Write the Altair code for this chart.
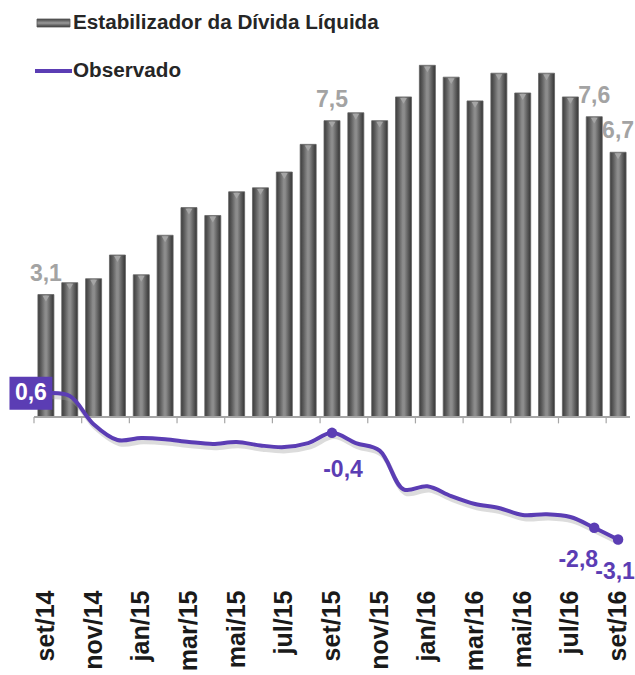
import altair as alt
import pandas as pd

months = ["set/14", "out/14", "nov/14", "dez/14", "jan/15", "fev/15", "mar/15", "abr/15",
          "mai/15", "jun/15", "jul/15", "ago/15", "set/15", "out/15", "nov/15", "dez/15",
          "jan/16", "fev/16", "mar/16", "abr/16", "mai/16", "jun/16", "jul/16", "ago/16", "set/16"]
estabilizador = [3.1, 3.4, 3.5, 4.1, 3.6, 4.6, 5.3, 5.1, 5.7, 5.8, 6.2, 6.9, 7.5, 7.7, 7.5,
                 8.1, 8.9, 8.6, 8.0, 8.7, 8.2, 8.7, 8.1, 7.6, 6.7]
observado = [0.6, 0.53, -0.18, -0.58, -0.53, -0.56, -0.63, -0.68, -0.63, -0.72, -0.76, -0.66,
             -0.4, -0.66, -0.85, -1.83, -1.75, -2.0, -2.2, -2.3, -2.48, -2.46, -2.53, -2.8, -3.1]

axis_label_months = months[::2]
bar_label_months = ["set/14", "set/15", "ago/16", "set/16"]
bar_label_texts = ["3,1", "7,5", "7,6", "6,7"]
line_point_months = ["set/15", "ago/16", "set/16"]
line_label_months = ["set/15", "ago/16", "set/16"]
line_label_texts = ["-0,4", "-2,8", "-3,1"]
line_label_dx = [11, -16, -3]
line_label_dy = [37, 32, 32]
first_label_month = "set/14"
first_label_text = "0,6"

legend_bar = "Estabilizador da Dívida Líquida"
legend_line = "Observado"

FONT = "Liberation Sans"
PURPLE = "#5b3db4"
W, H = 596, 575

df = pd.DataFrame({"mes": months, "estab": estabilizador, "obs": observado})
bar_lab = pd.DataFrame({"mes": bar_label_months, "txt": bar_label_texts}).merge(df, on="mes")
line_lab = pd.DataFrame({"mes": line_label_months, "txt": line_label_texts,
                         "dx": line_label_dx, "dy": line_label_dy}).merge(df, on="mes")
first_lab = pd.DataFrame({"mes": [first_label_month], "txt": [first_label_text]}).merge(df, on="mes")
ticks_df = pd.DataFrame({"mes": axis_label_months})

x = alt.X("mes:N", sort=months, title=None,
          scale=alt.Scale(paddingInner=0, paddingOuter=0),
          axis=alt.Axis(values=axis_label_months, domain=False, ticks=False, labelAngle=270,
                        labelAlign="right", labelBaseline="middle", labelPadding=5,
                        labelFont=FONT, labelFontSize=25, labelFontWeight="bold",
                        labelColor="#1a1a1a"))
yscale = alt.Scale(domain=[-4.25, 10.3], nice=False, zero=False)

base = alt.Chart(df)

bar_grad = alt.Gradient(gradient="linear", x1=0, x2=1, y1=0, y2=0,
                        stops=[alt.GradientStop(color="#3c3c3c", offset=0),
                               alt.GradientStop(color="#5c5c5c", offset=0.2),
                               alt.GradientStop(color="#8c8c8c", offset=0.45),
                               alt.GradientStop(color="#8c8c8c", offset=0.55),
                               alt.GradientStop(color="#5a5a5a", offset=0.8),
                               alt.GradientStop(color="#343434", offset=1)])

bars = base.mark_bar(size=16, fill=bar_grad, stroke="#666666", strokeWidth=0.8).encode(
    x=x, y=alt.Y("estab:Q", scale=yscale, axis=None), y2=alt.datum(0))

caps = base.mark_point(shape="triangle-down", filled=True, color="#a5a5a5", size=45,
                       opacity=1, yOffset=4).encode(
    x=alt.X("mes:N", sort=months), y=alt.Y("estab:Q", scale=yscale))

zero = base.mark_rule(color="#a6a6a6", strokeWidth=1.2).encode(
    y=alt.datum(0), x=alt.value(0), x2=alt.value(W))

ticks = alt.Chart(ticks_df).mark_rule(color="#a6a6a6", strokeWidth=1.2).encode(
    x=alt.X("mes:N", sort=months, bandPosition=0), y=alt.datum(0), y2=alt.datum(-0.16))

shadow = base.mark_line(interpolate="catmull-rom", color="#9a9a9a", opacity=0.35,
                        strokeWidth=4.5, xOffset=2, yOffset=4).encode(
    x=alt.X("mes:N", sort=months), y=alt.Y("obs:Q", scale=yscale))

line = base.mark_line(interpolate="catmull-rom", color=PURPLE, strokeWidth=4).encode(
    x=alt.X("mes:N", sort=months), y=alt.Y("obs:Q", scale=yscale))

pts = base.transform_filter(alt.FieldOneOfPredicate(field="mes", oneOf=line_point_months)).mark_point(
    filled=True, color=PURPLE, size=110, opacity=1).encode(
    x=alt.X("mes:N", sort=months), y=alt.Y("obs:Q", scale=yscale))

bar_text = alt.Chart(bar_lab).mark_text(font=FONT, fontSize=23, fontWeight="bold", color="#a3a3a3",
                                        baseline="bottom", dy=-9).encode(
    x=alt.X("mes:N", sort=months), y=alt.Y("estab:Q", scale=yscale), text="txt:N")

line_texts = []
for m, dxv, dyv in zip(line_label_months, line_label_dx, line_label_dy):
    line_texts.append(
        alt.Chart(line_lab).transform_filter(alt.datum.mes == m).mark_text(
            font=FONT, fontSize=23, fontWeight="bold", color=PURPLE, baseline="middle",
            dx=dxv, dy=dyv).encode(
            x=alt.X("mes:N", sort=months), y=alt.Y("obs:Q", scale=yscale), text="txt:N"))

box = alt.Chart(first_lab).mark_point(
    shape="M-1.3,-1L1.3,-1L1.3,1L-1.3,1Z", filled=True, color=PURPLE, opacity=1, size=1089,
    xOffset=-15).encode(x=alt.X("mes:N", sort=months), y=alt.Y("obs:Q", scale=yscale))
box_text = alt.Chart(first_lab).mark_text(font=FONT, fontSize=23, fontWeight="bold", color="white",
                                          baseline="middle", dx=-15).encode(
    x=alt.X("mes:N", sort=months), y=alt.Y("obs:Q", scale=yscale), text="txt:N")

leg_grad = alt.Gradient(gradient="linear", x1=0, x2=0, y1=0, y2=1,
                        stops=[alt.GradientStop(color="#444444", offset=0),
                               alt.GradientStop(color="#9a9a9a", offset=0.5),
                               alt.GradientStop(color="#3a3a3a", offset=1)])
leg_df = pd.DataFrame({"a": [0]})
leg_rect = alt.Chart(leg_df).mark_rect(fill=leg_grad, stroke="#555555", strokeWidth=0.8).encode(
    x=alt.value(3), x2=alt.value(36), y=alt.value(9), y2=alt.value(17))
leg_line = alt.Chart(leg_df).mark_rule(color=PURPLE, strokeWidth=4).encode(
    x=alt.value(1), x2=alt.value(38), y=alt.value(61))
leg_t1 = alt.Chart(leg_df).mark_text(font=FONT, fontSize=20.7, fontWeight="bold", color="#262626",
                                      align="left", baseline="middle").encode(
    x=alt.value(39), y=alt.value(13), text=alt.value(legend_bar))
leg_t2 = alt.Chart(leg_df).mark_text(font=FONT, fontSize=20.7, fontWeight="bold", color="#262626",
                                      align="left", baseline="middle").encode(
    x=alt.value(39), y=alt.value(61), text=alt.value(legend_line))

chart = alt.layer(bars, caps, zero, ticks, shadow, line, pts, bar_text, *line_texts,
                  box, box_text, leg_rect, leg_line, leg_t1, leg_t2).properties(
    width=W, height=H,
    autosize=alt.AutoSizeParams(type="none"),
    padding={"left": 34, "top": 10, "right": 5, "bottom": 90},
    background="white"
).configure_view(stroke=None)

chart.save("out.html", embed_options={"renderer": "svg", "actions": False})
